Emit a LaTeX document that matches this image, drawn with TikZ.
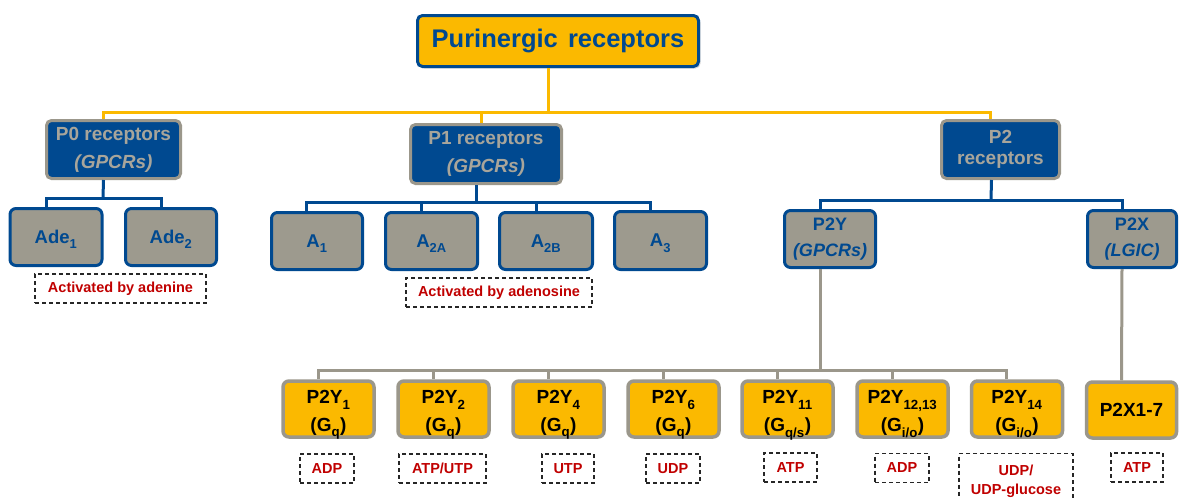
\documentclass[tikz,border=0pt]{standalone}
\usepackage{fontspec}
\setmainfont{Liberation Sans}
\usetikzlibrary{shadows}
\definecolor{pblue}{HTML}{004990}
\definecolor{pyellow}{HTML}{FBB900}
\definecolor{pgrayfill}{HTML}{9D9A8E}
\definecolor{pgrayline}{HTML}{9B978B}
\definecolor{pgraytext}{HTML}{A8A59B}
\definecolor{pred}{HTML}{C00000}
\newcommand\sbs[1]{\smash{\raisebox{-0.12em}{\textsubscript{#1}}}}
\newcommand\lft{\rule{0pt}{21.5pt}}
\tikzset{
  every node/.style={inner sep=0pt, align=center, font=\bfseries},
  topbox/.style={draw=pblue, fill=pyellow, line width=3pt, rounded corners=5pt,
    minimum width=281pt, minimum height=51pt, text=pblue,
    font=\fontsize{25.5}{28}\selectfont\bfseries,
    drop shadow={opacity=0.3, shadow xshift=2pt, shadow yshift=-2pt}},
  catbox/.style={draw=pgrayline, fill=pblue, line width=3pt, rounded corners=5pt,
    minimum height=58pt, text=pgraytext, font=\fontsize{19}{28}\selectfont\bfseries},
  subbox/.style={draw=pblue, fill=pgrayfill, line width=3pt, rounded corners=6pt,
    minimum width=92pt, minimum height=57pt, text=pblue,
    font=\fontsize{18.5}{26}\selectfont\bfseries},
  leafbox/.style={draw=pgrayline, fill=pyellow, line width=3.5pt, rounded corners=6pt,
    minimum width=91pt, minimum height=56pt, text=black,
    font=\fontsize{19}{28}\selectfont\bfseries},
  ligand/.style={draw=black!85, line width=1.2pt, dash pattern=on 4pt off 3pt,
    minimum height=29pt, text=pred, font=\fontsize{14.5}{19}\selectfont\bfseries},
  yl/.style={draw=pyellow, line width=3pt},
  bl/.style={draw=pblue, line width=3pt},
  gl/.style={draw=pgrayline, line width=3pt},
}
\begin{document}
\begin{tikzpicture}[x=1pt, y=-1pt]
\useasboundingbox (0,0) rectangle (1179,498);
\clip (0,0) rectangle (1179,498);
% bus coordinates
\coordinate (ybus) at (548,112);
\coordinate (b0) at (103,198);
\coordinate (b1) at (476,202);
\coordinate (b2) at (991,200);
\coordinate (gbus) at (820,370);
% top
\node[topbox] (top) at (558,41) {Purinergic\hspace{0.4em}receptors};
% categories
\node[catbox, minimum width=134pt] (p0) at (113.5,149.5) {P0 receptors\\\itshape (GPCRs)};
\node[catbox, minimum width=151pt, minimum height=59pt] (p1) at (486,154) {P1 receptors\\\itshape (GPCRs)};
\node[catbox, minimum width=118pt, font=\fontsize{19}{21}\selectfont\bfseries] (p2) at (1000.5,149.5) {P2\\receptors};
% P0 subtypes
\node[subbox] (ade1) at (56,237) {Ade\sbs{1}};
\node[subbox, minimum width=91pt] (ade2) at (171,237) {Ade\sbs{2}};
% P1 subtypes
\node[subbox, minimum width=91pt] (a1) at (317,241) {A\sbs{1}};
\node[subbox, minimum width=92pt] (a2a) at (431.5,241) {A\sbs{2A}};
\node[subbox, minimum width=93pt] (a2b) at (546,241) {A\sbs{2B}};
\node[subbox, minimum width=92pt, minimum height=58pt] (a3) at (660.5,240.5) {A\sbs{3}};
% P2 subtypes
\node[subbox, minimum width=91pt, font=\fontsize{18}{26}\selectfont\bfseries] (p2y) at (830,239) {P2Y\\\itshape (GPCRs)};
\node[subbox, minimum width=89pt, font=\fontsize{18}{26}\selectfont\bfseries] (p2x) at (1132,239) {P2X\\\itshape (LGIC)};
% leaves
\node[leafbox] (y1) at (328.5,409) {\lft P2Y\sbs{1}\\(G\sbs{q})};
\node[leafbox] (y2) at (443.5,409) {\lft P2Y\sbs{2}\\(G\sbs{q})};
\node[leafbox] (y4) at (558.5,409) {\lft P2Y\sbs{4}\\(G\sbs{q})};
\node[leafbox] (y6) at (673.5,409) {\lft P2Y\sbs{6}\\(G\sbs{q})};
\node[leafbox] (y11) at (787.5,409) {\lft P2Y\sbs{11}\\(G\sbs{q/s})};
\node[leafbox] (y12) at (902.5,409) {\lft P2Y\sbs{12,13}\\(G\sbs{i/o})};
\node[leafbox] (y14) at (1017,409) {\lft P2Y\sbs{14}\\(G\sbs{i/o})};
\node[leafbox, minimum width=90pt] (x17) at (1131.5,410) {P2X1-7};
% ligand labels
\node[ligand, minimum width=171pt] (lade) at (120.5,288.5) {Activated by adenine};
\node[ligand, minimum width=186pt] (lado) at (499,292.5) {Activated by adenosine};
\node[ligand, minimum width=54pt] (l1) at (327,468.5) {ADP};
\node[ligand, minimum width=87pt] (l2) at (442.5,468.5) {ATP/UTP};
\node[ligand, minimum width=52pt] (l4) at (568,468.5) {UTP};
\node[ligand, minimum width=54pt] (l6) at (673,468.5) {UDP};
\node[ligand, minimum width=53pt] (l11) at (790.5,467.5) {ATP};
\node[ligand, minimum width=54pt] (l12) at (902,468) {ADP};
\node[ligand, minimum width=114pt, minimum height=56pt, anchor=north] (l14) at (1016,453) {UDP/\\UDP-glucose};
\node[ligand, minimum width=52pt] (lx) at (1137,467.5) {ATP};
% yellow connectors
\draw[yl] ([xshift=-10pt]top.south) -- (ybus);
\draw[yl] ([xshift=-10pt]p0.north) |- (ybus);
\draw[yl] ([xshift=-5pt]p1.north) |- (ybus);
\draw[yl] ([xshift=-10pt]p2.north) |- (ybus);
% blue connectors
\draw[bl] ([xshift=-10pt]p0.south) -- (b0);
\draw[bl] ([xshift=-10pt]ade1.north) |- (b0);
\draw[bl] ([xshift=-10pt]ade2.north) |- (b0);
\draw[bl] ([xshift=-10pt]p1.south) -- (b1);
\draw[bl] ([xshift=-11pt]a1.north) |- (b1);
\draw[bl] ([xshift=-10pt]a2a.north) |- (b1);
\draw[bl] ([xshift=-10pt]a2b.north) |- (b1);
\draw[bl] ([xshift=-10pt]a3.north) |- (b1);
\draw[bl] ([xshift=-9pt]p2.south) -- (b2);
\draw[bl] ([xshift=-10pt]p2y.north) |- (b2);
\draw[bl] ([xshift=-10pt]p2x.north) |- (b2);
% gray connectors
\draw[gl] ([xshift=-10pt]p2y.south) -- (gbus);
\draw[gl] ([xshift=-10pt]y1.north) |- (gbus);
\draw[gl] ([xshift=-10pt]y2.north) |- (gbus);
\draw[gl] ([xshift=-10pt]y4.north) |- (gbus);
\draw[gl] ([xshift=-10pt]y6.north) |- (gbus);
\draw[gl] ([xshift=-10pt]y11.north) |- (gbus);
\draw[gl] ([xshift=-10pt]y12.north) |- (gbus);
\draw[gl] ([xshift=-11pt]y14.north) |- (gbus);
\draw[gl] ([xshift=-10pt]p2x.south) -- ([xshift=-10pt]x17.north);
\end{tikzpicture}
\end{document}
